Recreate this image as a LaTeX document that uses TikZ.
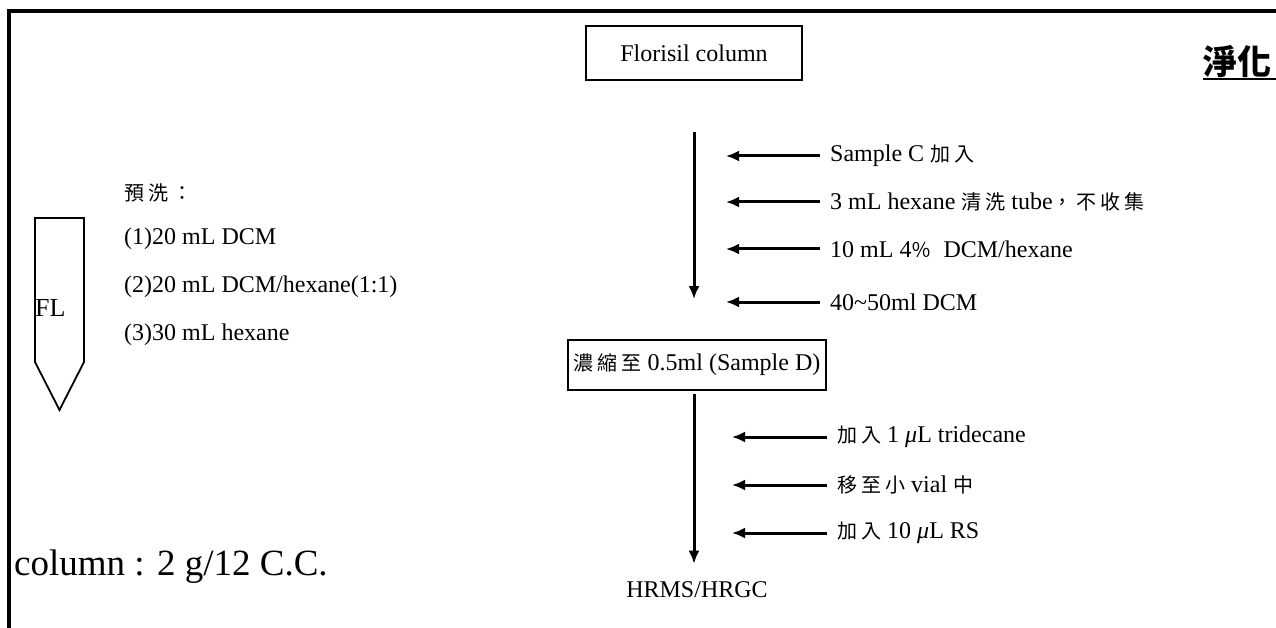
\documentclass[tikz,border=0pt]{standalone}
\usepackage{fontspec}
\setmainfont{Liberation Serif}
\newfontfamily\cjk[LetterSpace=20]{Noto Sans CJK TC}
\newfontfamily\cjktitle{Noto Sans CJK TC}
\usetikzlibrary{arrows.meta}
\tikzset{box/.style={draw, line width=1.8pt, inner sep=2pt}}
\tikzset{flow/.style={line width=3pt, -{Latex[length=13pt,width=11pt]}}}
\tikzset{note/.style={anchor=west, inner sep=0pt, font=\fontsize{24}{24}\selectfont}}
\newcommand{\zh}[1]{{\cjk\fontsize{20}{23}\selectfont #1}}

\begin{document}
\begin{tikzpicture}[x=1pt,y=-1pt]
\useasboundingbox (0,0) rectangle (1276,628);

% frame
\draw[line width=4pt] (9,650) -- (9,11) -- (1300,11);

% title
\node[anchor=west, inner sep=0pt, font=\cjktitle\bfseries\fontsize{34}{34}\selectfont] (title) at (1203,62) {淨化};
\coordinate (ul) at (1203,79);
\draw[line width=2pt] (ul) -- ++(80,0);

% column
\draw[line width=1.8pt] (35,218) -- (84,218) -- (84,362) -- (59.5,410) -- (35,362) -- cycle;
\node[anchor=base west, inner sep=0pt, font=\fontsize{26}{26}\selectfont] (fl) at (35,316) {FL};

\node[note] (pre) at (124,193) {\zh{預洗：}};
\node[note] (pa) at (124,239) {(1)20 mL DCM};
\node[note] (pb) at (124,287) {(2)20 mL DCM/hexane(1:1)};
\node[note] (pc) at (124,335) {(3)30 mL hexane};

\node[anchor=west, inner sep=0pt, font=\fontsize{37}{37}\selectfont] (size) at (14,567) {column : 2 g/12 C.C.};

% main flow
\node[box, minimum width=216pt, minimum height=54pt, font=\fontsize{24}{24}\selectfont] (flor) at (694,53) {Florisil column};
\node[box, minimum width=258pt, minimum height=50pt, inner xsep=1pt, font=\fontsize{24}{24}\selectfont] (conc) at (697,365) {\zh{濃縮至} 0.5ml (Sample D)};
\node[inner sep=0pt, font=\fontsize{24}{24}\selectfont] (hrms) at (697,590) {HRMS/HRGC};

\draw[flow, shorten <=51pt, shorten >=40pt] (flor.south) -- (flor.south |- conc.north);
\draw[flow, shorten <=3pt, shorten >=18pt] (flor.south |- conc.south) -- (flor.south |- hrms.north);

\node[note] (sa) at (830,156) {Sample C \zh{加入}};
\node[note] (sb) at (830,202) {3 mL hexane \zh{清洗} tube\zh{，不收集}};
\node[note] (sc) at (830,249) {10 mL 4\zh{％}\ \ DCM/hexane};
\node[note] (sd) at (830,302) {40\textasciitilde 50ml DCM};

\node[note] (ta) at (837,437) {\zh{加入} 1 \textit{μ}L tridecane};
\node[note] (tb) at (837,485) {\zh{移至小} vial \zh{中}};
\node[note] (tc) at (837,533) {\zh{加入} 10 \textit{μ}L RS};

\foreach \n in {sa,sb,sc,sd}{
  \draw[flow] ([xshift=-10pt]\n.west) -- ++(-94,0);
}
\foreach \n in {ta,tb,tc}{
  \draw[flow] ([xshift=-10pt]\n.west) -- ++(-95,0);
}

\end{tikzpicture}
\end{document}
